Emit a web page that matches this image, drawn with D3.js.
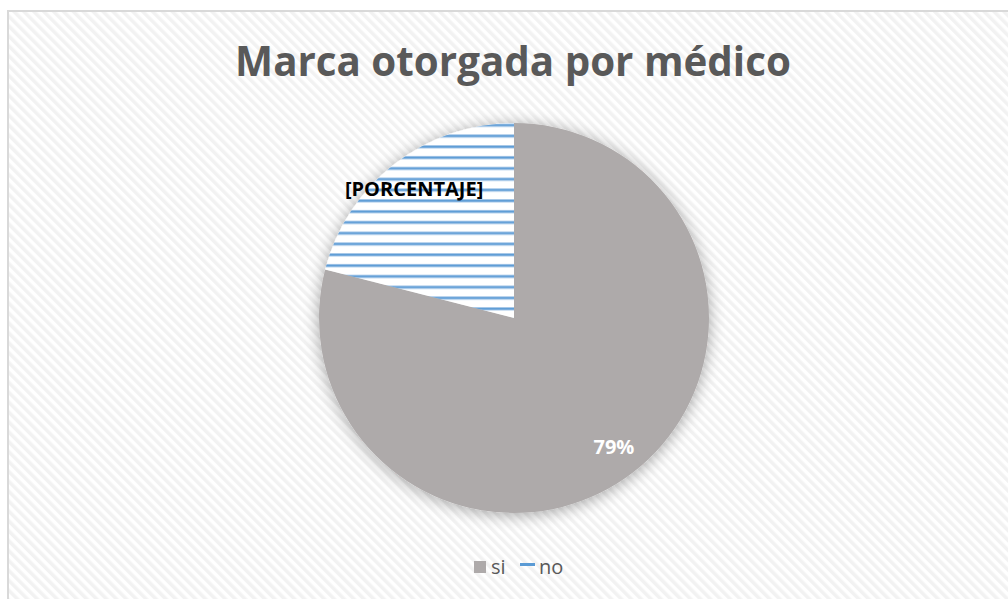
<!DOCTYPE html>
<html>
<head>
<meta charset="utf-8">
<script src="https://cdn.jsdelivr.net/npm/d3@7"></script>
<style>
  html, body { margin: 0; padding: 0; background: #ffffff; }
  svg { display: block; }
</style>
</head>
<body>
<svg id="chart" width="1008" height="599"></svg>
<script>
const title = "Marca otorgada por médico";
const categories = ["si", "no"];
const values = [79, 21];
const sliceLabels = ["79%", "[PORCENTAJE]"];

const W = 1008, H = 599;
const cx = 514, cy = 318, R = 195;

const svg = d3.select("#chart");
const defs = svg.append("defs");

// background diagonal stripes
const bg = defs.append("pattern").attr("id", "bgStripe")
  .attr("patternUnits", "userSpaceOnUse").attr("width", 7).attr("height", 7)
  .attr("patternTransform", "rotate(-45)");
bg.append("rect").attr("width", 7).attr("height", 7).attr("fill", "#ffffff");
bg.append("rect").attr("width", 3.5).attr("height", 7).attr("fill", "#f2f2f2");

// horizontal blue stripes for "no"
const hs = defs.append("pattern").attr("id", "blueStripe")
  .attr("patternUnits", "userSpaceOnUse").attr("width", 20).attr("height", 10.8)
  .attr("y", 129.5);
hs.append("rect").attr("width", 20).attr("height", 10.8).attr("fill", "#ffffff");
hs.append("rect").attr("y", 0).attr("width", 20).attr("height", 3.4).attr("fill", "#a4c6e8");
hs.append("rect").attr("y", 0.9).attr("width", 20).attr("height", 1.6).attr("fill", "#5b9bd5");

const sh = defs.append("filter").attr("id", "shadow")
  .attr("x", "-20%").attr("y", "-20%").attr("width", "140%").attr("height", "140%");
sh.append("feGaussianBlur").attr("in", "SourceAlpha").attr("stdDeviation", 8).attr("result", "b");
sh.append("feOffset").attr("in", "b").attr("dx", 0).attr("dy", 2).attr("result", "o");
sh.append("feComponentTransfer").attr("in", "o").attr("result", "o2")
  .append("feFuncA").attr("type", "linear").attr("slope", 0.35);
const mg = sh.append("feMerge");
mg.append("feMergeNode").attr("in", "o2");
mg.append("feMergeNode").attr("in", "SourceGraphic");

svg.append("rect").attr("x", 0).attr("y", 0).attr("width", W).attr("height", H).attr("fill", "#ffffff");
svg.append("rect").attr("x", 8).attr("y", 11).attr("width", W + 10).attr("height", H + 10)
  .attr("fill", "url(#bgStripe)").attr("stroke", "#d9d9d9").attr("stroke-width", 2);

// title
const t = svg.append("text").attr("x", 513).attr("y", 76).attr("text-anchor", "middle")
  .attr("font-family", "'Open Sans', sans-serif").attr("font-weight", "bold")
  .attr("font-size", 42).attr("fill", "#595959").text(title);
let tw = t.node().getComputedTextLength();
if (tw > 556) t.attr("font-size", 42 * 556 / tw);

const color = d3.scaleOrdinal().domain(categories).range(["#aeaaaa", "url(#blueStripe)"]);
const pie = d3.pie().sort(null).value(d => d.v);
const data = pie(categories.map((c, i) => ({ c, v: values[i], label: sliceLabels[i] })));
const arc = d3.arc().innerRadius(0).outerRadius(R);
const labelArc = d3.arc().innerRadius(163).outerRadius(163);

const g = svg.append("g").attr("transform", `translate(${cx},${cy})`);
g.append("g").attr("filter", "url(#shadow)")
  .selectAll("path").data(data).join("path")
  .attr("d", arc).attr("fill", d => color(d.data.c));

g.selectAll("text.lbl").data(data).join("text").attr("class", "lbl")
  .attr("transform", d => `translate(${labelArc.centroid(d)})`)
  .attr("text-anchor", "middle").attr("dy", "0.36em")
  .attr("font-family", "'Open Sans', sans-serif").attr("font-weight", "bold")
  .attr("font-size", 20)
  .attr("fill", d => d.data.c === "si" ? "#ffffff" : "#000000")
  .text(d => d.data.label);

// legend
const lg = svg.append("g");
lg.append("rect").attr("x", 474).attr("y", 561).attr("width", 12).attr("height", 12).attr("fill", color("si"));
lg.append("text").attr("x", 491).attr("y", 574).attr("font-family", "'Open Sans', sans-serif")
  .attr("font-size", 20).attr("fill", "#595959").text(categories[0]);
lg.append("rect").attr("x", 520).attr("y", 563).attr("width", 15).attr("height", 3).attr("fill", "#5b9bd5");
lg.append("text").attr("x", 539).attr("y", 574).attr("font-family", "'Open Sans', sans-serif")
  .attr("font-size", 20).attr("fill", "#595959").text(categories[1]);
</script>
</body>
</html>
